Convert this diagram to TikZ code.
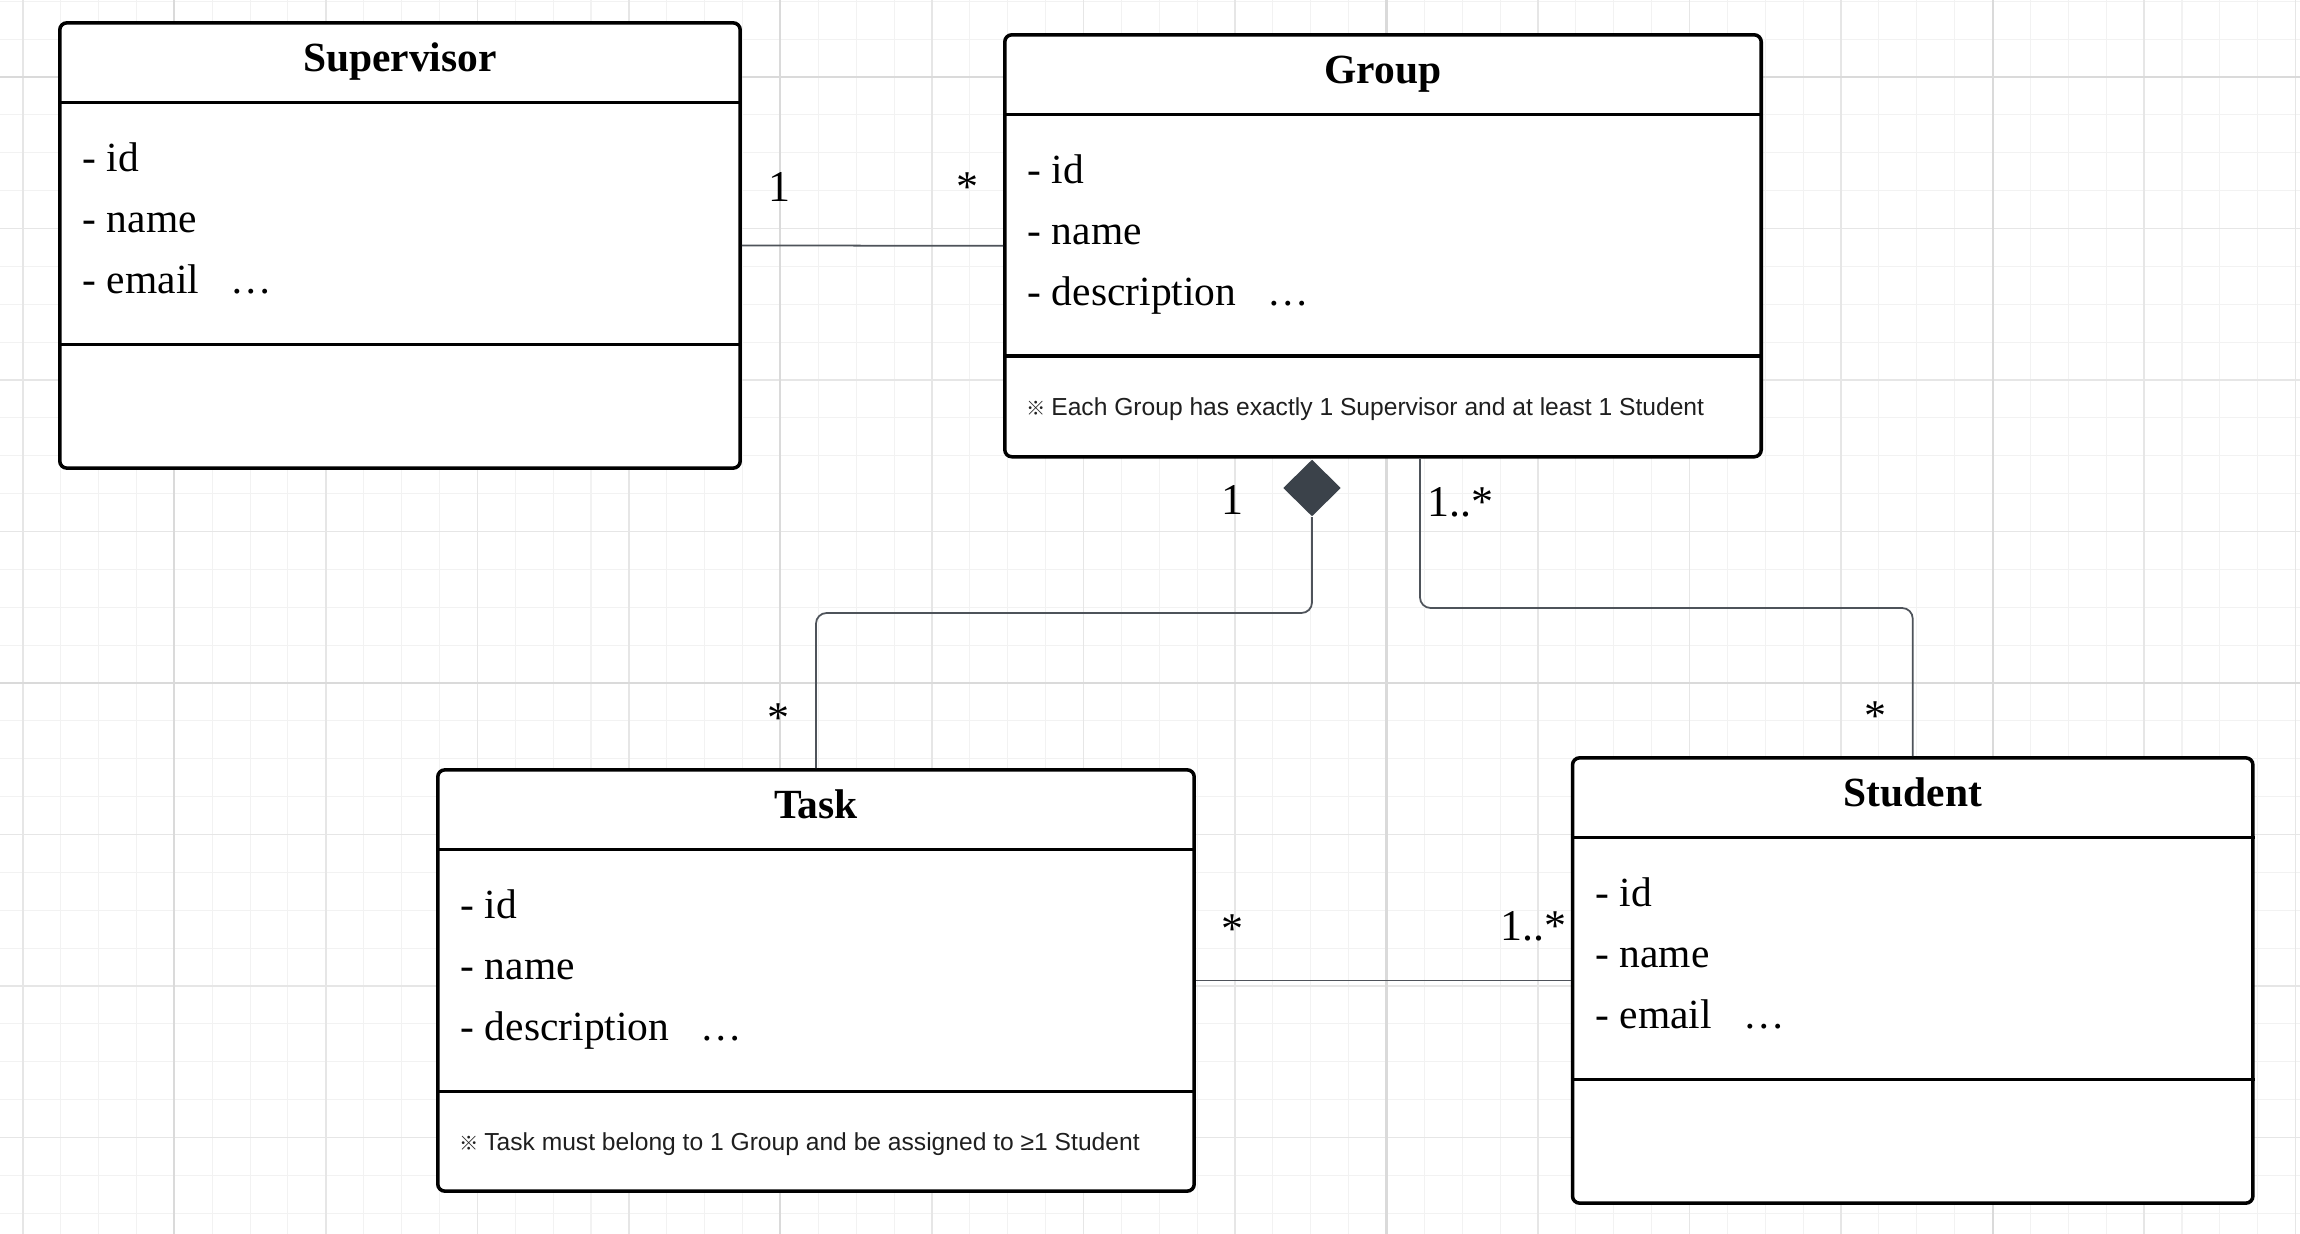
\documentclass[tikz,border=0pt]{standalone}
\usepackage{fontspec}
\setmainfont{Liberation Serif}
\newfontfamily\notefont{Liberation Sans}
\newfontfamily\cjkfont{Noto Sans CJK JP}
\usepackage{tikz}
\usetikzlibrary{shapes.geometric}
\definecolor{minorcol}{HTML}{F2F2F2}
\definecolor{midcol}{HTML}{E6E6E6}
\definecolor{majorcol}{HTML}{DADADA}
\definecolor{conncol}{HTML}{4E535A}
\definecolor{diamondcol}{HTML}{3B424A}
\definecolor{notecol}{HTML}{1F1F1F}

\begin{document}
\begin{tikzpicture}[x=0.01cm, y=-0.01cm,
    minorline/.style={draw=minorcol, line width=0.3pt},
    midline/.style={draw=midcol, line width=0.45pt},
    majorline/.style={draw=majorcol, line width=0.6pt},
    classbox/.style={draw, line width=1pt, rounded corners=2pt, fill=white, inner sep=0pt},
    sepline/.style={line width=1pt},
    titletext/.style={font=\fontsize{11.8}{14}\selectfont\bfseries, anchor=base, inner sep=0pt},
    attrtext/.style={font=\fontsize{11.8}{14}\selectfont, anchor=base west, inner sep=0pt},
    multtext/.style={font=\fontsize{12.5}{15}\selectfont, anchor=base, inner sep=0pt},
    notetext/.style={font=\notefont\fontsize{7}{8}\selectfont, text=notecol, anchor=base west, inner sep=0pt},
    conn/.style={draw=conncol, line width=0.5pt, rounded corners=3pt},
    aggdiamond/.style={diamond, fill=diamondcol, inner sep=0pt, minimum width=0.58cm, minimum height=0.57cm}]
    \useasboundingbox (0,0) rectangle (2300,1234);
    \fill[white] (0,0) rectangle (2300,1234);

    % Background grid
    \foreach \k in {0,...,60} \draw[minorline] ({22.8+37.88*\k},0) -- ({22.8+37.88*\k},1234);
    \foreach \m in {0,...,32} \draw[minorline] (0,{1.2+37.88*\m}) -- (2300,{1.2+37.88*\m});
    \foreach \k in {0,4,...,60} \draw[midline] ({22.8+37.88*\k},0) -- ({22.8+37.88*\k},1234);
    \foreach \m in {2,6,...,30} \draw[midline] (0,{1.2+37.88*\m}) -- (2300,{1.2+37.88*\m});
    \foreach \k in {4,20,36,52} \draw[majorline] ({22.8+37.88*\k},0) -- ({22.8+37.88*\k},1234);
    \foreach \m in {2,18} \draw[majorline] (0,{1.2+37.88*\m}) -- (2300,{1.2+37.88*\m});

    % Classes
    \node[classbox, minimum width=6.8cm, minimum height=4.45cm] (sup) at (400,245.5) {};
    \node[classbox, minimum width=7.56cm, minimum height=4.217cm] (grp) at (1383,245.8) {};
    \node[classbox, minimum width=7.56cm, minimum height=4.21cm] (task) at (816,980.5) {};
    \node[classbox, minimum width=6.8cm, minimum height=4.45cm] (stu) at (1912.7,980.5) {};
    \foreach \b in {sup,grp,task,stu} {
        \draw[sepline] ([yshift=-0.815cm]\b.north west) -- ([yshift=-0.815cm]\b.north east);
        \draw[sepline] ([yshift=-3.23cm]\b.north west) -- ([yshift=-3.23cm]\b.north east);
    }

    % Titles
    \node[titletext] (supT) at ([yshift=-0.5cm]sup.north) {Supervisor};
    \node[titletext] (grpT) at ([yshift=-0.5cm]grp.north) {Group};
    \node[titletext] (taskT) at ([yshift=-0.5cm]task.north) {Task};
    \node[titletext] (stuT) at ([yshift=-0.5cm]stu.north) {Student};

    % Attributes
    \foreach \t [count=\i] in {- id, - name, - email\hspace{0.75em}\ldots}
        \node[attrtext] (supA\i) at ([xshift=0.24cm, yshift=-1.505cm-0.61cm*(\i-1)]sup.north west) {\t};
    \foreach \t [count=\i] in {- id, - name, - description\hspace{0.75em}\ldots}
        \node[attrtext] (grpA\i) at ([xshift=0.24cm, yshift=-1.505cm-0.61cm*(\i-1)]grp.north west) {\t};
    \foreach \t [count=\i] in {- id, - name, - description\hspace{0.75em}\ldots}
        \node[attrtext] (taskA\i) at ([xshift=0.24cm, yshift=-1.505cm-0.61cm*(\i-1)]task.north west) {\t};
    \foreach \t [count=\i] in {- id, - name, - email\hspace{0.75em}\ldots}
        \node[attrtext] (stuA\i) at ([xshift=0.24cm, yshift=-1.505cm-0.61cm*(\i-1)]stu.north west) {\t};

    % Notes
    \node[notetext] (grpN) at ([xshift=0.23cm, yshift=-3.82cm]grp.north west)
        {{\cjkfont\bfseries\fontsize{5.5}{7}\selectfont ※}\hspace{1.5pt}Each Group has exactly 1 Supervisor and at least 1 Student};
    \node[notetext] (taskN) at ([xshift=0.23cm, yshift=-3.82cm]task.north west)
        {{\cjkfont\bfseries\fontsize{5.5}{7}\selectfont ※}\hspace{1.5pt}Task must belong to 1 Group and be assigned to ≥1 Student};

    % Associations
    \node[aggdiamond] (agg) at (1312,488) {};
    \coordinate (aggbend) at (1312,613);
    \coordinate (grpS) at ([xshift=0.37cm]grp.south);
    \coordinate (stubend) at (1420,608);
    \draw[conn] (sup.east) -- (grp.west);
    \draw[conn] (task.east) -- (stu.west);
    \draw[conn] (agg.south) -- (aggbend) -| (task.north);
    \draw[conn] (grpS) -- (stubend) -| (stu.north);

    % Multiplicities
    \node[multtext] (m1) at (779,202) {1};
    \node[multtext] (m2) at (967.5,202) {*};
    \node[multtext] (m3) at (1232,515) {1};
    \node[multtext, anchor=base west] (m4) at (1427,517) {1..*};
    \node[multtext] (m5) at (778.5,732) {*};
    \node[multtext] (m6) at (1875.5,730) {*};
    \node[multtext] (m7) at (1232.5,943) {*};
    \node[multtext, anchor=base east] (m8) at (1567,940) {1..*};
\end{tikzpicture}
\end{document}
